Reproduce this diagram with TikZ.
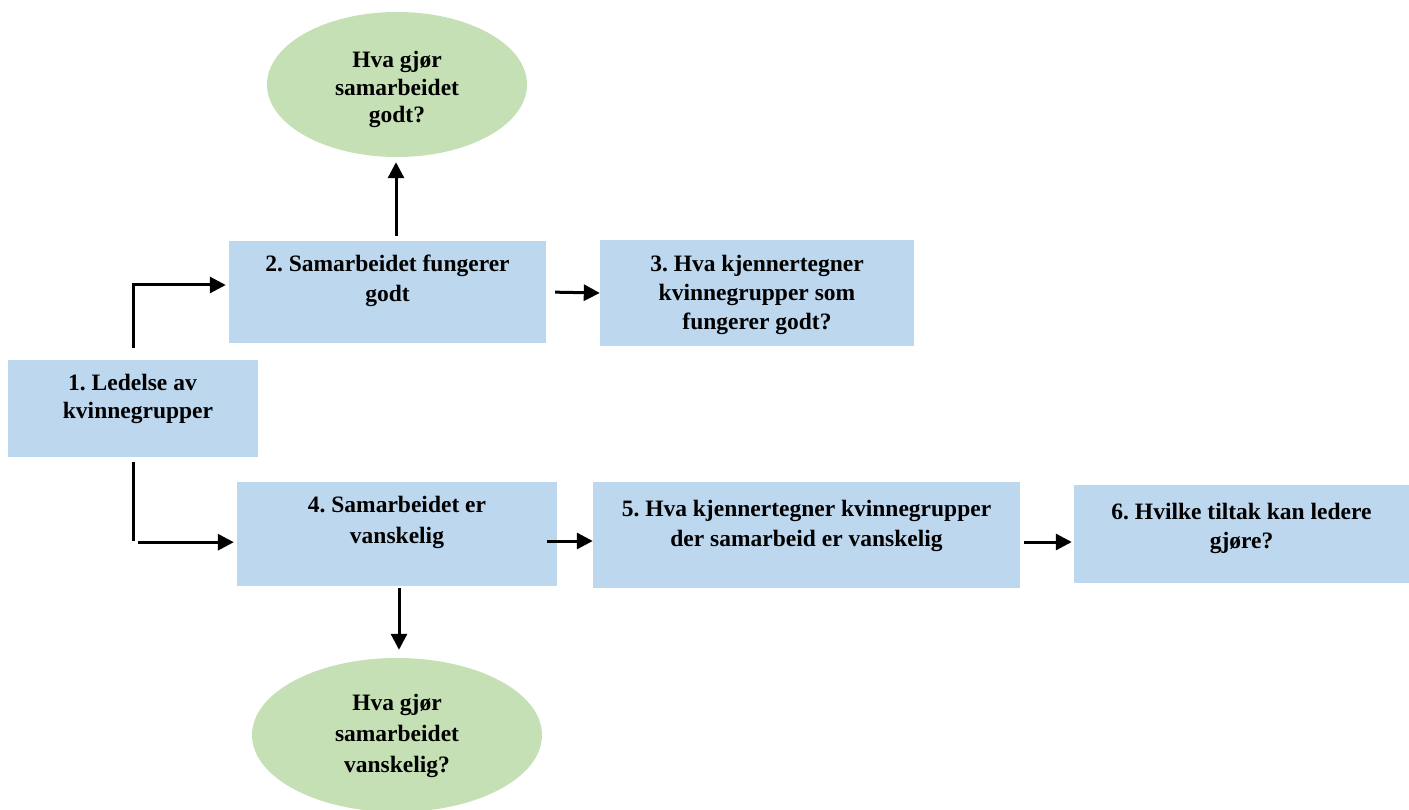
\documentclass[tikz,border=0pt]{standalone}
\usepackage{fontspec}
\setmainfont{Liberation Serif}
\frenchspacing
\usetikzlibrary{arrows.meta,shapes.geometric}
\definecolor{boxblue}{RGB}{189,215,238}
\definecolor{ovalgreen}{RGB}{197,224,180}
\tikzset{
  bluebox/.style={fill=boxblue, draw=none, inner sep=0pt},
  greenoval/.style={ellipse, fill=ovalgreen, draw=none, inner sep=0pt},
  caption/.style={anchor=base, align=center, inner sep=0pt,
    font=\bfseries\fontsize{23.5}{#1}\selectfont},
  caption/.default=30pt,
  line/.style={line width=3pt},
  arr/.style={line width=3pt, -{Triangle[length=16pt,width=16pt]}},
}
\begin{document}
\begin{tikzpicture}[x=1pt, y=-1pt]
\useasboundingbox (0,0) rectangle (1409,810);

% boxes
\node[bluebox, minimum width=250pt, minimum height=97pt]  (b1) at (133,408.5) {};
\node[bluebox, minimum width=317pt, minimum height=102pt] (b2) at (387.5,292) {};
\node[bluebox, minimum width=314pt, minimum height=106pt] (b3) at (757,293) {};
\node[bluebox, minimum width=320pt, minimum height=104pt] (b4) at (397,534) {};
\node[bluebox, minimum width=427pt, minimum height=106pt] (b5) at (806.5,535) {};
\node[bluebox, minimum width=335pt, minimum height=98pt]  (b6) at (1241.5,534) {};

% ovals
\node[greenoval, minimum width=260pt, minimum height=145pt] (e1) at (397,84.5) {};
\node[greenoval, minimum width=290pt, minimum height=154pt] (e2) at (397,735) {};

% captions (placed on the baseline of their last line)
\node[caption=28pt]   (t1) at (138,418)    {1. Ledelse av\hspace*{11pt}\\kvinnegrupper};
\node[caption=30pt]   (t2) at (387.5,302)  {2. Samarbeidet fungerer\\godt};
\node[caption=29pt]   (t3) at (757,330)    {3. Hva kjennertegner\\kvinnegrupper som\\fungerer godt?};
\node[caption=31pt]   (t4) at (397,543)    {4. Samarbeidet er\\vanskelig};
\node[caption=30pt]   (t5) at (806.5,546)  {5. Hva kjennertegner kvinnegrupper\\der samarbeid er vanskelig};
\node[caption=29pt]   (t6) at (1241.5,548) {6. Hvilke tiltak kan ledere\\gjøre?};
\node[caption=27.5pt] (t7) at (397,123)    {Hva gjør\\samarbeidet\\godt?};
\node[caption=31pt]   (t8) at (397,772)    {Hva gjør\\samarbeidet\\vanskelig?};

% connectors
\draw[arr, shorten <=5pt, shorten >=5pt] ([xshift=-1pt]e1.south |- b2.north) -- ([xshift=-1pt]e1.south);
\draw[arr, shorten >=3pt] ([yshift=12pt]b1.north) |- ([yshift=7pt]b2.west);
\draw[line] ([yshift=-5pt]b1.south) -- ([yshift=-84pt]b1.south) coordinate (j);
\draw[arr, shorten >=3pt] ([xshift=5pt,yshift=-1pt]j) -- ([yshift=-1pt]j -| b4.west);
\draw[arr, shorten <=9pt] (b2.east) -- (b3.west);
\draw[arr, shorten <=-10pt] ([yshift=-7pt]b4.east) -- ([yshift=-7pt]b4.east -| b5.west);
\draw[arr, shorten <=4pt, shorten >=2pt] ([yshift=-7pt]b5.east) -- ([yshift=-7pt]b5.east -| b6.west);
\draw[arr, shorten <=2pt, shorten >=8pt] ([xshift=2pt]b4.south) -- ([xshift=2pt]b4.south |- e2.north);
\end{tikzpicture}
\end{document}
